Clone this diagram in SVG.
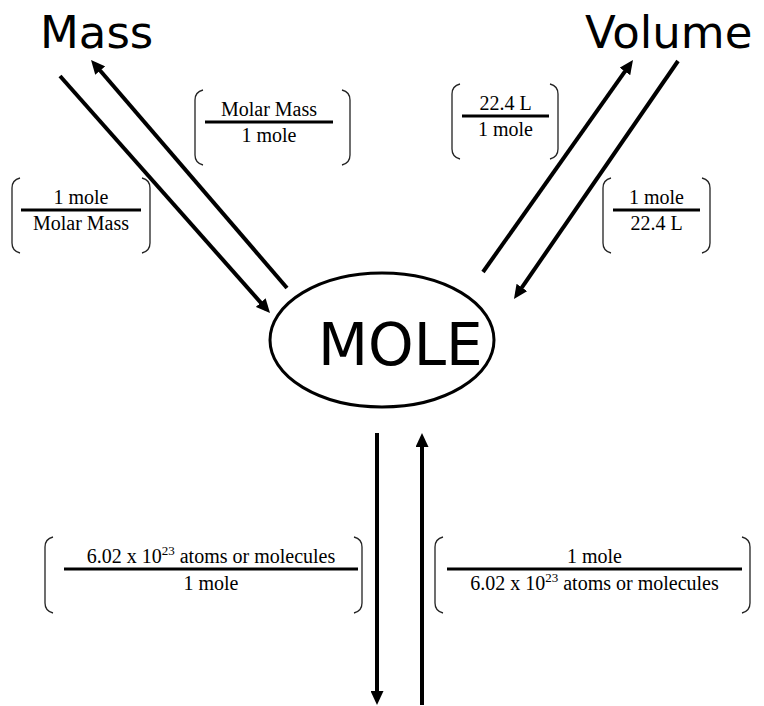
<svg xmlns="http://www.w3.org/2000/svg" width="764" height="706" viewBox="0 0 764 706">
<defs>
<style>
.big{font-family:"DejaVu Sans",Verdana,sans-serif;fill:#000}
.arr{stroke:#000;stroke-width:4;fill:none;marker-end:url(#ah)}
.bar{stroke:#000;stroke-width:3}
.br{stroke:#222;stroke-width:1.3;fill:none}
</style>
<marker id="ah" viewBox="0 0 14 13" refX="9" refY="6.5" markerWidth="14" markerHeight="13" markerUnits="userSpaceOnUse" orient="auto">
<path d="M0,0 L14,6.5 L0,13 z" fill="#000"/>
</marker>
</defs>
<rect width="764" height="706" fill="#fff"/>

<g id="mass"><text class="big" x="40" y="48" font-size="45">Mass</text></g>
<g id="volume"><text class="big" x="585" y="48" font-size="45">Volume</text></g>
<g id="mole">
<ellipse cx="382" cy="340" rx="112" ry="67" fill="none" stroke="#000" stroke-width="3"/>
<text class="big" x="318" y="365" font-size="58">MOLE</text>
</g>

<g id="connectors">
<line class="arr" x1="60" y1="76" x2="266.7" y2="309.3"/>
<line class="arr" x1="287" y1="288" x2="94.3" y2="63.8"/>
<line class="arr" x1="483" y1="272" x2="630.1" y2="64.1"/>
<line class="arr" x1="678" y1="61" x2="516.8" y2="294.9"/>
<line class="arr" x1="377" y1="433" x2="377" y2="700"/>
<line class="arr" x1="422" y1="705" x2="422" y2="438"/>
</g>

<g font-family="'Liberation Serif', 'Times New Roman', Tinos, 'DejaVu Serif', serif" font-size="20" text-anchor="middle" fill="#000">
<g id="f-molarmass-over-mole">
<path class="br" d="M203,90 Q195,92 195,100 V155 Q195,163 203,165"/>
<path class="br" d="M342,90 Q350,92 350,100 V155 Q350,163 342,165"/>
<line class="bar" x1="205" y1="122" x2="333" y2="122"/>
<text x="269" y="116">Molar Mass</text>
<text x="269" y="142">1 mole</text>
</g>

<g id="f-mole-over-molarmass">
<path class="br" d="M20,178 Q12,180 12,188 V243 Q12,251 20,253"/>
<path class="br" d="M142,178 Q150,180 150,188 V243 Q150,251 142,253"/>
<line class="bar" x1="21" y1="210" x2="141" y2="210"/>
<text x="81" y="204">1 mole</text>
<text x="81" y="230">Molar Mass</text>
</g>

<g id="f-22L-over-mole">
<path class="br" d="M460,84 Q452,86 452,94 V149 Q452,157 460,159"/>
<path class="br" d="M550,84 Q558,86 558,94 V149 Q558,157 550,159"/>
<line class="bar" x1="462" y1="116" x2="549" y2="116"/>
<text x="505.5" y="110">22.4 L</text>
<text x="505.5" y="136">1 mole</text>
</g>

<g id="f-mole-over-22L">
<path class="br" d="M611,178 Q603,180 603,188 V243 Q603,251 611,253"/>
<path class="br" d="M702,178 Q710,180 710,188 V243 Q710,251 702,253"/>
<line class="bar" x1="613" y1="210" x2="700" y2="210"/>
<text x="656.5" y="204">1 mole</text>
<text x="656.5" y="230">22.4 L</text>
</g>

<g id="f-avogadro-over-mole">
<path class="br" d="M53,537 Q45,539 45,547 V603 Q45,611 53,613"/>
<path class="br" d="M354,537 Q362,539 362,547 V603 Q362,611 354,613"/>
<line class="bar" x1="64" y1="569" x2="358" y2="569"/>
<text x="211" y="563">6.02 x 10<tspan dy="-8" font-size="13">23</tspan><tspan dy="8"> atoms or molecules</tspan></text>
<text x="211" y="590">1 mole</text>
</g>

<g id="f-mole-over-avogadro">
<path class="br" d="M443,537 Q435,539 435,547 V603 Q435,611 443,613"/>
<path class="br" d="M742,537 Q750,539 750,547 V603 Q750,611 742,613"/>
<line class="bar" x1="447" y1="569" x2="742" y2="569"/>
<text x="594.5" y="563">1 mole</text>
<text x="594.5" y="590">6.02 x 10<tspan dy="-8" font-size="13">23</tspan><tspan dy="8"> atoms or molecules</tspan></text>
</g>
</g>
</svg>
